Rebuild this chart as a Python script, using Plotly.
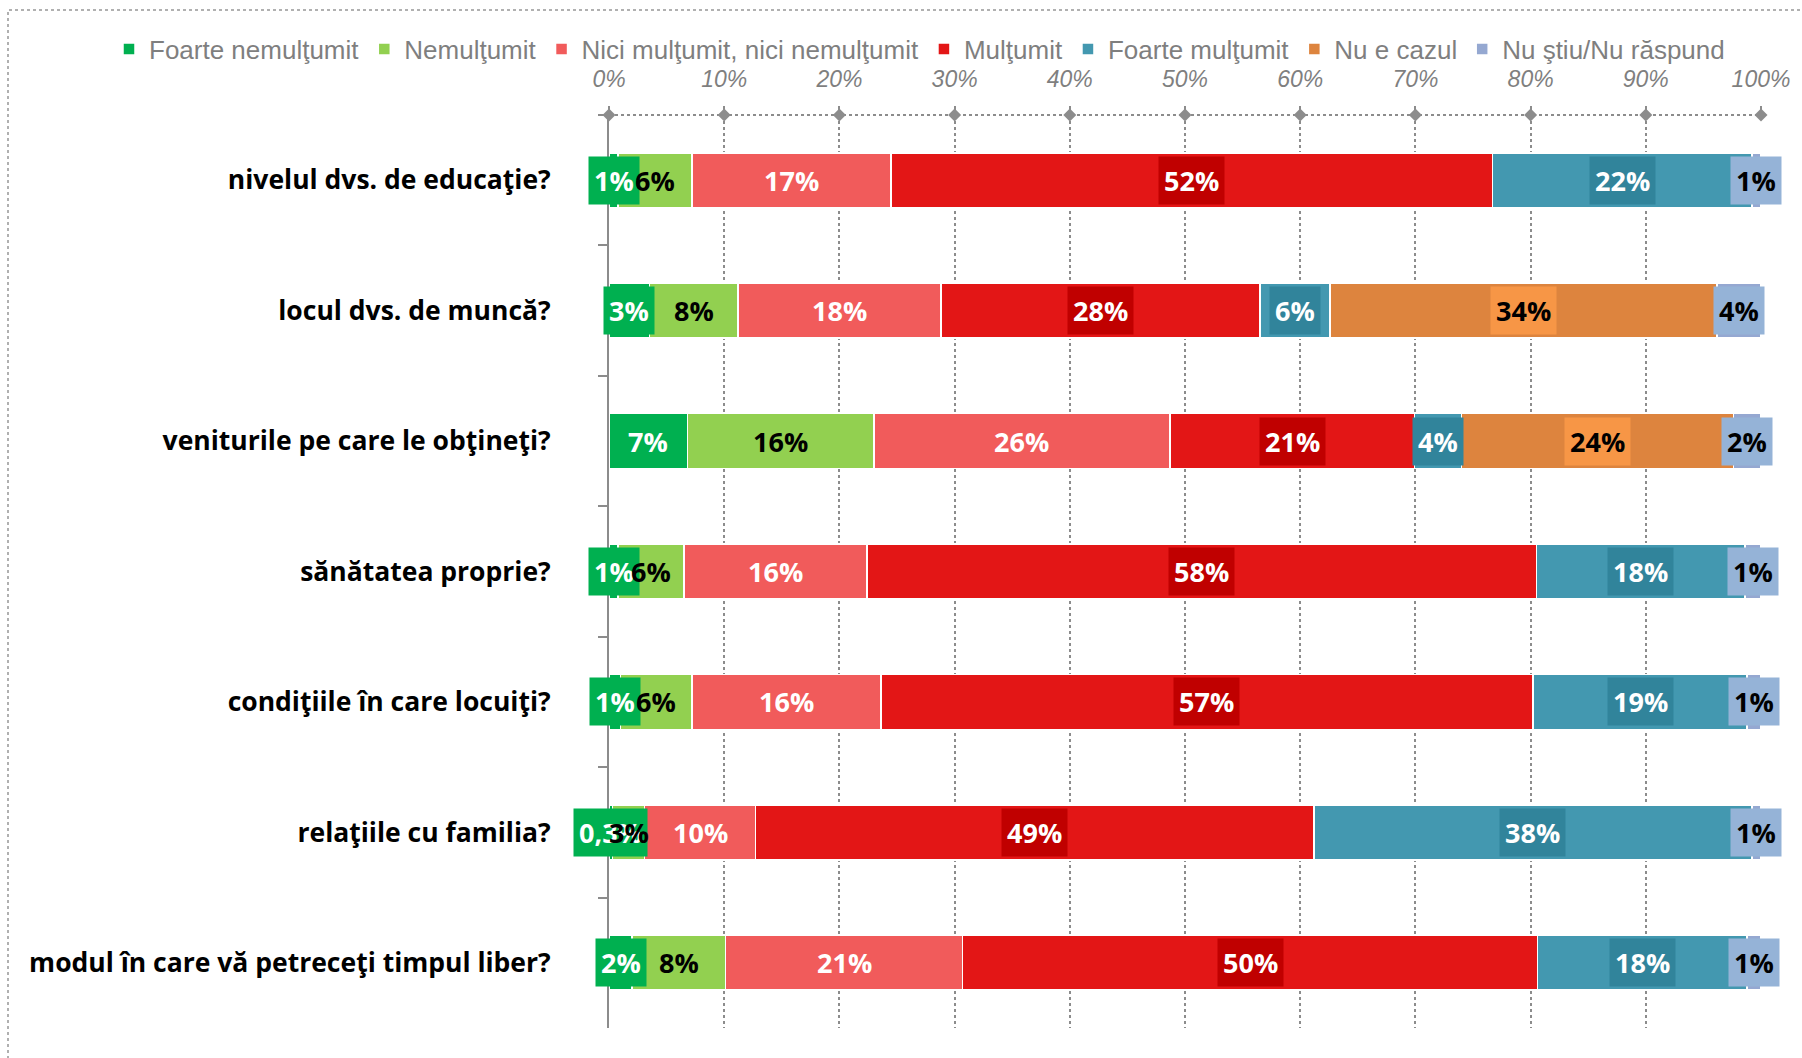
import plotly.graph_objects as go

categories = [
    "nivelul dvs. de educaţie?",
    "locul dvs. de muncă?",
    "veniturile pe care le obţineţi?",
    "sănătatea proprie?",
    "condiţiile în care locuiţi?",
    "relaţiile cu familia?",
    "modul în care vă petreceţi timpul liber?",
]

series_names = ["Foarte nemulţumit", "Nemulţumit", "Nici mulţumit, nici nemulţumit",
                "Mulţumit", "Foarte mulţumit", "Nu e cazul", "Nu ştiu/Nu răspund"]

foarte_nemultumit = [0.8, 3.5, 6.8, 0.8, 1.0, 0.3, 2.0]
nemultumit = [6.4, 7.7, 16.2, 5.7, 6.2, 2.8, 8.1]
nici = [17.3, 17.6, 25.7, 15.9, 16.4, 9.6, 20.6]
multumit = [52.2, 27.7, 21.2, 58.1, 56.6, 48.5, 49.9]
foarte_multumit = [22.5, 6.1, 4.1, 18.1, 18.6, 38.0, 18.2]
nu_e_cazul = [0, 33.6, 23.6, 0, 0, 0, 0]
nu_stiu = [0.8, 3.8, 2.4, 1.4, 1.2, 0.8, 1.2]

labels_fn = ["1%", "3%", "7%", "1%", "1%", "0,3%", "2%"]
labels_n = ["6%", "8%", "16%", "6%", "6%", "3%", "8%"]
labels_nici = ["17%", "18%", "26%", "16%", "16%", "10%", "21%"]
labels_m = ["52%", "28%", "21%", "58%", "57%", "49%", "50%"]
labels_fm = ["22%", "6%", "4%", "18%", "19%", "38%", "18%"]
labels_nec = ["", "34%", "24%", "", "", "", ""]
labels_ns = ["1%", "4%", "2%", "1%", "1%", "1%", "1%"]

tick_vals = [0, 10, 20, 30, 40, 50, 60, 70, 80, 90, 100]
tick_text = ["0%", "10%", "20%", "30%", "40%", "50%", "60%", "70%", "80%", "90%", "100%"]

values = [foarte_nemultumit, nemultumit, nici, multumit, foarte_multumit, nu_e_cazul, nu_stiu]
labels = [labels_fn, labels_n, labels_nici, labels_m, labels_fm, labels_nec, labels_ns]
bar_colors = ["#00B050", "#92D050", "#F15B5B", "#E31616", "#4398B0", "#DD843E", "#95A8D1"]
label_bg = ["#00B050", None, None, "#C00000", "#31849B", "#F79646", "#95B3D7"]
label_fg = ["white", "black", "white", "white", "white", "black", "black"]

fig = go.Figure()
for name, vals, col in zip(series_names, values, bar_colors):
    fig.add_trace(go.Bar(
        y=categories, x=vals, orientation="h", name=name,
        marker=dict(color=col, line=dict(color="white", width=1.5)),
        hoverinfo="x+name",
    ))

# diamonds on top axis ticks
fig.add_trace(go.Scatter(
    x=tick_vals, y=[1] * len(tick_vals), yaxis="y2", mode="markers",
    marker=dict(symbol="diamond", size=10, color="#8c8c8c"),
    showlegend=False, hoverinfo="skip", cliponaxis=False,
))

annotations = []
cum = [0.0] * len(categories)
for s, (vals, labs) in enumerate(zip(values, labels)):
    for i, (v, lab) in enumerate(zip(vals, labs)):
        if lab:
            ann = dict(
                x=cum[i] + v / 2, y=categories[i], xref="x", yref="y",
                text="<b>%s</b>" % lab, showarrow=False,
                font=dict(family="Open Sans", size=27, color=label_fg[s]),
                borderpad=5,
            )
            if label_bg[s]:
                ann["bgcolor"] = label_bg[s]
            annotations.append(ann)
        cum[i] += v

L, R, T, B = 609, 41, 115, 30
W, H = 1802, 1058
pw = W - L - R
ph = H - T - B

shapes = [
    dict(type="line", xref="x", yref="paper", x0=0, x1=100, y0=1, y1=1,
         line=dict(color="#8c8c8c", width=2, dash="dot"), layer="below"),
    dict(type="rect", xref="paper", yref="paper",
         x0=(8 - L) / pw, x1=(W + 10 - L) / pw,
         y0=(H - B - (H + 10)) / ph, y1=(H - B - 10) / ph,
         line=dict(color="#b0b0b0", width=2, dash="dot"), layer="below"),
]

fig.update_layout(
    width=W, height=H,
    margin=dict(l=L, r=R, t=T, b=B),
    barmode="stack", bargap=0.58,
    plot_bgcolor="white", paper_bgcolor="white",
    showlegend=True,
    legend=dict(
        orientation="h", x=(109 - L) / pw, xanchor="left",
        y=1 + (T - 49) / ph, yanchor="middle",
        font=dict(family="Liberation Sans", size=26, color="#7f7f7f"),
        traceorder="normal", itemwidth=30, bgcolor="rgba(0,0,0,0)",
    ),
    xaxis=dict(
        side="top", range=[0, 100], tickvals=tick_vals, ticktext=tick_text,
        tickfont=dict(family="Liberation Sans", size=23, color="#7f7f7f", style="italic"),
        showgrid=True, gridcolor="#8c8c8c", gridwidth=2, griddash="dot",
        zeroline=False, showline=False,
        ticks="outside", ticklen=8, tickwidth=2, tickcolor="#8c8c8c",
        ticklabelstandoff=10, fixedrange=True,
    ),
    yaxis=dict(
        autorange="reversed", showline=True, linecolor="#8c8c8c", linewidth=2,
        ticks="outside", tickson="boundaries", ticklen=9, tickwidth=2, tickcolor="#8c8c8c",
        tickfont=dict(family="Open Sans", size=26.5, color="black", weight="bold"),
        ticklabelstandoff=51, showgrid=False, fixedrange=True,
    ),
    yaxis2=dict(overlaying="y", range=[0, 1], visible=False, fixedrange=True),
    annotations=annotations,
    shapes=shapes,
)

fig.write_html("out.html", config={"displayModeBar": False},
               post_script="document.body.style.margin='0';document.body.style.overflow='hidden';")
